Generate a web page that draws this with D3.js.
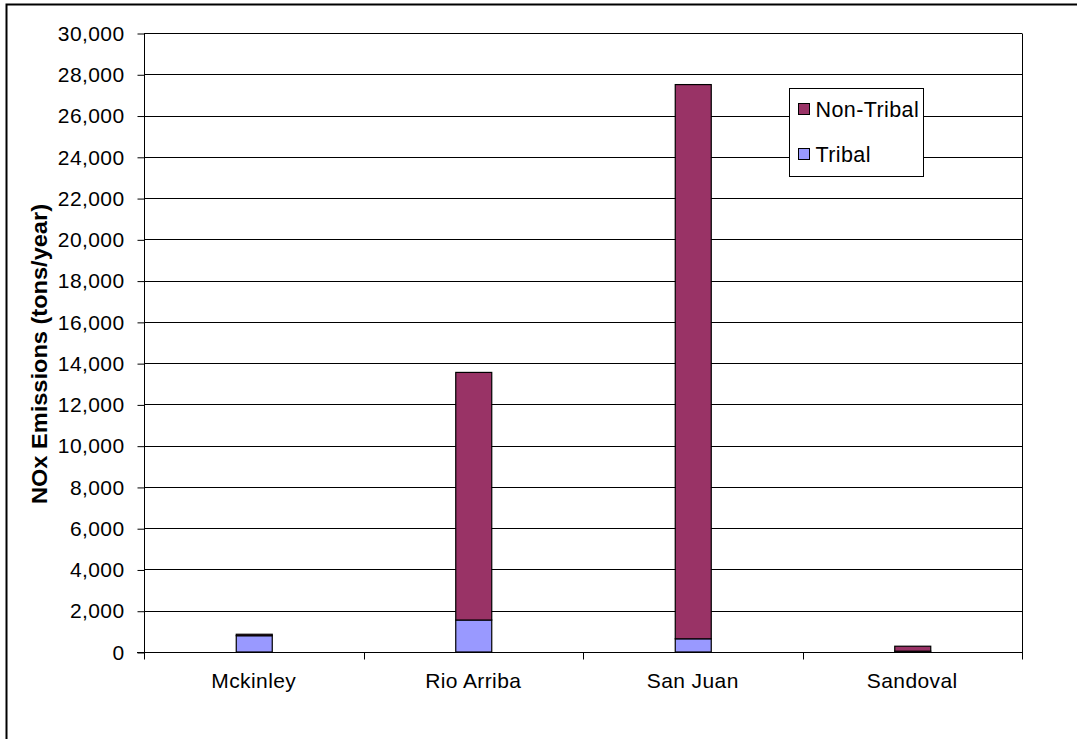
<!DOCTYPE html>
<html>
<head>
<meta charset="utf-8">
<script src="https://cdn.jsdelivr.net/npm/d3@7"></script>
<style>
  html, body { margin: 0; padding: 0; background: #fff; }
  svg { display: block; font-family: Arial, "Liberation Sans", sans-serif; }
</style>
</head>
<body>
<svg id="chart" width="1077" height="739"></svg>
<script>
// County NOx emissions, split into tribal and non-tribal sources (tons/year)
const counties = ["Mckinley", "Rio Arriba", "San Juan", "Sandoval"];
const tribal = [790, 1550, 640, 40];
const nonTribal = [70, 12000, 26860, 240];
const seriesNames = ["Non-Tribal", "Tribal"];
const yTicks = [0, 2000, 4000, 6000, 8000, 10000, 12000, 14000, 16000, 18000, 20000, 22000, 24000, 26000, 28000, 30000];

const colors = { "Tribal": "#9999FF", "Non-Tribal": "#993366" };
const FONT = "Arial, 'Liberation Sans', sans-serif";

const svg = d3.select("#chart");
const plot = { left: 144, right: 1022, top: 33, bottom: 652 };

// outer chart frame
svg.append("rect")
  .attr("x", 6.5).attr("y", 4.5)
  .attr("width", 1080).attr("height", 760)
  .attr("fill", "none").attr("stroke", "#000").attr("stroke-width", 2);

const x = d3.scaleBand().domain(counties).range([plot.left, plot.right]).paddingInner(0).paddingOuter(0);
const y = d3.scaleLinear().domain([0, 30000]).range([plot.bottom, plot.top]);

// horizontal gridlines
svg.append("g").selectAll("line").data(yTicks.filter(d => d > 0)).join("line")
  .attr("x1", plot.left).attr("x2", plot.right)
  .attr("y1", d => Math.round(y(d)) + 0.5).attr("y2", d => Math.round(y(d)) + 0.5)
  .attr("stroke", "#000").attr("stroke-width", 1);

// right edge of plot area
svg.append("line")
  .attr("x1", plot.right + 0.5).attr("x2", plot.right + 0.5)
  .attr("y1", plot.top + 0.5).attr("y2", plot.bottom + 7)
  .attr("stroke", "#000");

// y axis
const yAxis = d3.axisLeft(y).tickValues(yTicks).tickSize(7).tickPadding(13)
  .tickFormat(d3.format(","));
const gy = svg.append("g").attr("transform", `translate(${plot.left + 0.5},0.5)`).call(yAxis);
gy.attr("font-size", null).attr("font-family", null);
gy.select(".domain").attr("d", `M0,${plot.top}V${plot.bottom}`).attr("stroke", "#000");
gy.selectAll(".tick line").attr("stroke", "#000");
gy.selectAll(".tick text").style("font-size", "21px").attr("fill", "#000")
  .style("font-family", FONT).style("letter-spacing", "0.4px");

// x axis with ticks on category boundaries
const gx = svg.append("g").attr("transform", `translate(0,${plot.bottom + 0.5})`);
gx.append("line").attr("x1", plot.left - 7).attr("x2", plot.right)
  .attr("y1", 0).attr("y2", 0).attr("stroke", "#000");
const bounds = counties.map(c => x(c)).concat([plot.right]);
gx.selectAll("line.tk").data(bounds).join("line").attr("class", "tk")
  .attr("x1", d => Math.round(d) + 0.5).attr("x2", d => Math.round(d) + 0.5)
  .attr("y1", 0).attr("y2", 7).attr("stroke", "#000");
gx.selectAll("text").data(counties).join("text")
  .attr("x", d => x(d) + x.bandwidth() / 2).attr("y", 35)
  .attr("text-anchor", "middle").style("font-size", "21px").attr("fill", "#000")
  .style("letter-spacing", "0.4px")
  .text(d => d);

// stacked bars
const rows = counties.map((c, i) => ({ county: c, "Tribal": tribal[i], "Non-Tribal": nonTribal[i] }));
const stack = d3.stack().keys(["Tribal", "Non-Tribal"])(rows);
const barW = 36;

svg.append("g").selectAll("g").data(stack).join("g")
  .attr("fill", d => colors[d.key])
  .selectAll("rect").data(d => d).join("rect")
  .attr("x", d => x(d.data.county) + x.bandwidth() / 2 - barW / 2 + 0.5)
  .attr("y", d => y(d[1]))
  .attr("width", barW)
  .attr("height", d => y(d[0]) - y(d[1]))
  .attr("stroke", "#000").attr("stroke-width", 1.2);

// y axis title
svg.append("text")
  .attr("transform", "translate(47,354) rotate(-90)")
  .attr("text-anchor", "middle").style("font-size", "22px").attr("font-weight", "bold")
  .attr("fill", "#000")
  .attr("textLength", 300).attr("lengthAdjust", "spacingAndGlyphs")
  .text("NOx Emissions (tons/year)");

// legend
const lg = svg.append("g").attr("transform", "translate(789.5,88.5)");
lg.append("rect").attr("width", 134).attr("height", 88)
  .attr("fill", "#fff").attr("stroke", "#000");
seriesNames.forEach((name, i) => {
  const row = lg.append("g").attr("transform", `translate(9,${15 + i * 45})`);
  row.append("rect").attr("width", 11).attr("height", 11)
    .attr("fill", colors[name]).attr("stroke", "#000");
  row.append("text").attr("x", 17).attr("y", 13)
    .style("font-size", "21.5px").attr("fill", "#000")
    .style("letter-spacing", "0.4px").text(name);
});
</script>
</body>
</html>
